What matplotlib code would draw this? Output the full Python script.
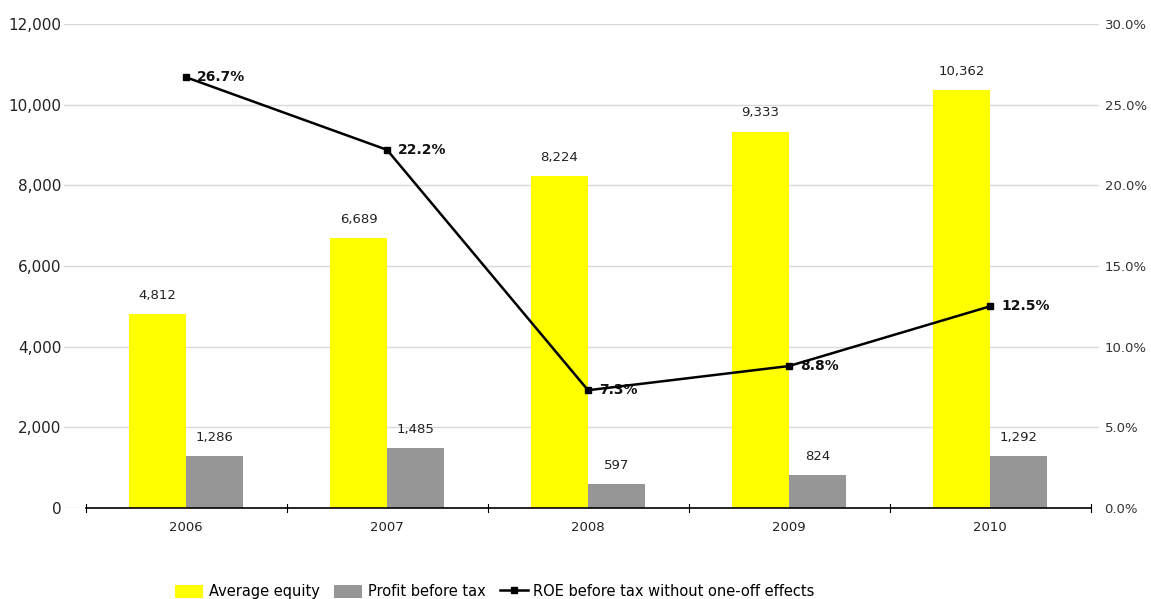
import matplotlib.pyplot as plt
import numpy as np

years = ["2006", "2007", "2008", "2009", "2010"]
avg_equity = [4812, 6689, 8224, 9333, 10362]
profit_before_tax = [1286, 1485, 597, 824, 1292]
roe = [26.7, 22.2, 7.3, 8.8, 12.5]

plt.rcParams['font.family'] = ['DejaVu Sans']

fig = plt.figure(figsize=(11.51, 5.99), dpi=100)
ax = fig.add_axes([64 / 1151, 91 / 599, 1035 / 1151, 484 / 599])
ax2 = ax.twinx()

x = np.arange(len(years))
w = 0.284

ax.bar(x - w / 2, avg_equity, w, color="#ffff00", label="Average equity", zorder=2)
ax.bar(x + w / 2, profit_before_tax, w, color="#969696", label="Profit before tax", zorder=2)

for i in range(len(years)):
    ax.text(x[i] - w / 2, avg_equity[i] + 300, f"{avg_equity[i]:,}", ha="center", va="bottom",
            fontsize=9.5, color="#222222")
    ax.text(x[i] + w / 2, profit_before_tax[i] + 300, f"{profit_before_tax[i]:,}", ha="center",
            va="bottom", fontsize=9.5, color="#222222")

ax.set_xlim(-0.607, 4.542)
ax.set_ylim(0, 12000)
ax.set_yticks(range(0, 12001, 2000))
ax.set_yticklabels([f"{v:,}" for v in range(0, 12001, 2000)], fontsize=11, color="#222222")
ax.yaxis.grid(True, color="#d9d9d9", linewidth=1, zorder=0)
ax.set_axisbelow(True)
ax.tick_params(axis="y", length=0, pad=2)
ax.set_xticks([])
for s in ax.spines.values():
    s.set_visible(False)

# category axis line with boundary ticks
ax.plot([-0.5, 4.5], [0, 0], color="black", linewidth=1.2, zorder=3, clip_on=False)
for b in np.arange(-0.5, 4.6, 1.0):
    ax.plot([b, b], [-100, 100], color="black", linewidth=0.8, zorder=3, clip_on=False)
for i, yr in enumerate(years):
    ax.text(i, -330, yr, ha="center", va="top", fontsize=9.5, color="#222222")

line, = ax2.plot(x, roe, color="black", linewidth=1.8, marker="s", markersize=5,
                 label="ROE before tax without one-off effects", zorder=4)
for i in range(len(years)):
    ax2.text(x[i] + 0.055, roe[i], f"{roe[i]:.1f}%", ha="left", va="center",
             fontsize=10, fontweight="bold", color="#111111")
ax2.set_ylim(0, 30)
ax2.set_yticks(range(0, 31, 5))
ax2.set_yticklabels([f"{v:.1f}%" for v in range(0, 31, 5)], fontsize=9.5, color="#333333")
ax2.tick_params(axis="y", length=0, pad=4)
for s in ax2.spines.values():
    s.set_visible(False)

h1, l1 = ax.get_legend_handles_labels()
h2, l2 = ax2.get_legend_handles_labels()
fig.legend(h1 + h2, l1 + l2, loc="lower center", bbox_to_anchor=(0.43, -0.022), ncol=3,
           frameon=False, fontsize=10.5, handlelength=1.9, handleheight=1.0,
           handletextpad=0.4, columnspacing=1.0)

fig.savefig("out.png", dpi=100)
